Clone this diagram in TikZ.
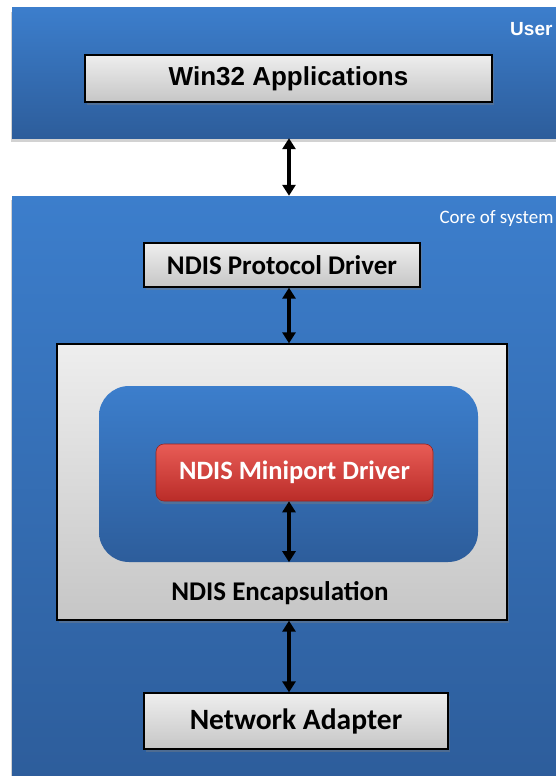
\documentclass[tikz,border=0pt]{standalone}
\usepackage{fontspec}
\setmainfont{Carlito}
\newfontfamily\arialfont{Liberation Sans}
\usepackage{xcolor}
\usepackage{tikz}
\usetikzlibrary{arrows.meta,shadows}

\definecolor{bandtop}{RGB}{60,126,204}
\definecolor{bandbot}{RGB}{45,93,155}
\definecolor{greytop}{RGB}{238,238,238}
\definecolor{greybot}{RGB}{198,198,198}
\definecolor{redtop}{RGB}{232,92,86}
\definecolor{redbot}{RGB}{186,44,40}

\begin{document}
\begin{tikzpicture}[x=1pt,y=-1pt,
	bluefill/.style={rectangle,inner sep=0pt,top color=bandtop,bottom color=bandbot},
	band/.style={bluefill,drop shadow={shadow xshift=-1pt,shadow yshift=-4pt,opacity=0.35}},
	greybox/.style={rectangle,draw=black,line width=1.3pt,inner sep=0pt,
		top color=greytop,bottom color=greybot,
		drop shadow={shadow xshift=2pt,shadow yshift=-3pt,opacity=0.4}},
	redbox/.style={rectangle,rounded corners=8pt,draw=redbot!80!black,line width=0.6pt,inner sep=0pt,
		top color=redtop,bottom color=redbot,text=white,
		drop shadow={shadow xshift=1pt,shadow yshift=-3pt,opacity=0.4}},
	link/.style={line width=4pt,{Triangle[width=13pt,length=11pt]}-{Triangle[width=13pt,length=11pt]}}]
	\useasboundingbox[fill=white] (0,0) rectangle (555,776);
	
	\node[band,minimum width=548,minimum height=130] (userband) at (286,73) {};
	\node[band,minimum width=548,minimum height=585] (coreband) at (286,488.5) {};
	\node[text=white,anchor=east,font=\arialfont\bfseries\fontsize{19}{21}\selectfont] (usertxt) at (556,29) {User};
	\node[text=white,anchor=east,font=\fontsize{19}{21}\selectfont] (coretxt) at (557,219) {Core of system};
	
	\node[greybox,minimum width=407,minimum height=47,font=\arialfont\bfseries\fontsize{26}{28}\selectfont] (win) at (288.5,78.5) {Win32 Applications};
	\node[greybox,minimum width=276,minimum height=44,font=\bfseries\fontsize{27}{29}\selectfont] (proto) at (282,265) {NDIS Protocol Driver};
	\node[greybox,minimum width=450,minimum height=276] (encap) at (282,482) {};
	\node[bluefill,rounded corners=30pt,minimum width=379,minimum height=176] (inner) at (288.5,474) {};
	\node[redbox,minimum width=277,minimum height=57,font=\bfseries\fontsize{26.5}{29}\selectfont] (mini) at (294.5,472.5) {NDIS Miniport Driver};
	\node[font=\bfseries\fontsize{27}{29}\selectfont] (enclabel) at (280,593) {NDIS Encapsulation};
	\node[greybox,minimum width=304,minimum height=56,font=\bfseries\fontsize{29.5}{31}\selectfont] (adapter) at (296,721) {Network Adapter};
	
	\coordinate (axis) at (289,0);
	\draw[link] (userband.south -| axis) -- (coreband.north -| axis);
	\draw[link] (proto.south -| axis) -- (encap.north -| axis);
	\draw[link] (mini.south -| axis) -- (inner.south -| axis);
	\draw[link] (encap.south -| axis) -- (adapter.north -| axis);
\end{tikzpicture}
\end{document}
